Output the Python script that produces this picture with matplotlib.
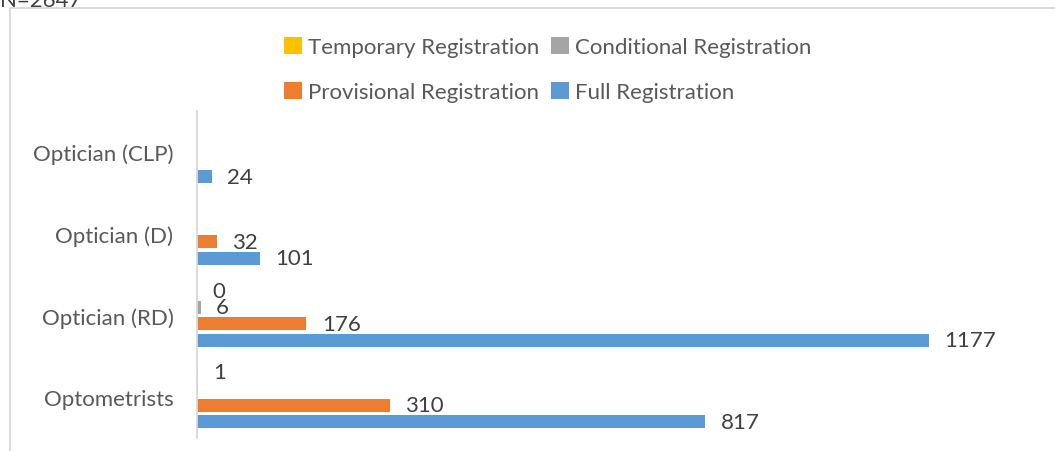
import matplotlib
matplotlib.use("Agg")
import matplotlib.pyplot as plt
from matplotlib.patches import Rectangle, Patch
import numpy as np

categories = ["Optician (CLP)", "Optician (D)", "Optician (RD)", "Optometrists"]
series_names = ["Temporary Registration", "Conditional Registration",
                "Provisional Registration", "Full Registration"]
temporary = [np.nan, np.nan, 0, 1]
conditional = [np.nan, np.nan, 6, 2]
provisional = [np.nan, 32, 176, 310]
full = [24, 101, 1177, 817]
# which bars carry a visible data label
temporary_labels = [False, False, True, True]
conditional_labels = [False, False, True, False]
provisional_labels = [False, True, True, True]
full_labels = [True, True, True, True]
total_note = "N=2647"

colors = ["#FFC000", "#A5A5A5", "#ED7D31", "#5B9BD5"]
FONT = "Lato"
plt.rcParams['font.family'] = [FONT, 'DejaVu Sans']
FS = 16

W, H = 1055, 452
fig = plt.figure(figsize=(W / 100, H / 100), dpi=100)

# chart frame
fig.patches.append(Rectangle((9.5 / W, -0.1), 1.2, 1.1 - 9.5 / H, transform=fig.transFigure,
                             fill=False, edgecolor="#D9D9D9", linewidth=1.3))

x0, y_top, y_bot = 197, 112, 439
xmax = 1300
scale = 732 / 1177
ax = fig.add_axes([x0 / W, 1 - y_bot / H, xmax * scale / W, (y_bot - y_top) / H])
ax.set_xlim(0, xmax)
ax.set_ylim(len(categories) - 0.5, -0.5)

band = (y_bot - y_top) / len(categories)
step = 16.5 / band
height = 13 / band
ypos = np.arange(len(categories))
all_series = [temporary, conditional, provisional, full]
all_labels = [temporary_labels, conditional_labels, provisional_labels, full_labels]
for k, (vals, labs, c) in enumerate(zip(all_series, all_labels, colors)):
    off = (k - 1.5) * step
    vals = np.array(vals, dtype=float)
    bars = ax.barh(ypos + off, np.nan_to_num(vals), height=height, color=c,
                   edgecolor="none", linewidth=0)
    texts = [f"{int(v)}" if (show and not np.isnan(v)) else "" for v, show in zip(vals, labs)]
    ax.bar_label(bars, labels=texts, padding=11, fontsize=FS, color="#404040")

for s in ["top", "right", "bottom"]:
    ax.spines[s].set_visible(False)
ax.spines["left"].set_color("#D9D9D9")
ax.spines["left"].set_linewidth(1.3)
ax.set_xticks([])
ax.set_yticks(ypos)
ax.set_yticklabels(categories, fontsize=FS, color="#595959")
ax.tick_params(axis="y", length=0, pad=17)
ax.patch.set_alpha(0)

handles = [Patch(facecolor=c, edgecolor="none") for c in colors]
order = [0, 2, 1, 3]
fig.legend([handles[i] for i in order], [series_names[i] for i in order],
           ncol=2, loc="upper left", bbox_to_anchor=(284 / W, 1 - 38 / H),
           frameon=False, fontsize=FS, labelcolor="#595959",
           handlelength=0.8, handleheight=0.8, handletextpad=0.3,
           columnspacing=0.5, labelspacing=1.12, borderpad=0, borderaxespad=0)

fig.text(0.0, 1 - 7 / H, total_note, fontsize=FS, color="#404040", va="baseline", ha="left")

fig.savefig("out.png", dpi=100)
